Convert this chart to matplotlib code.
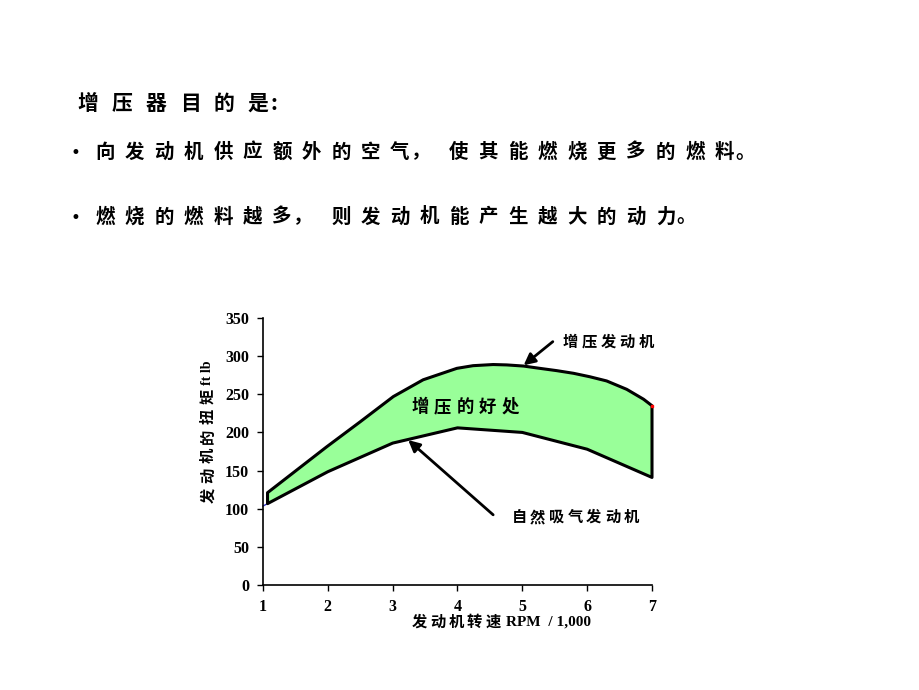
import numpy as np
import matplotlib
matplotlib.use("Agg")
import matplotlib.pyplot as plt

# ---------------- data ----------------
rpm_turbo = [1.07, 1.98, 2.50, 3.01, 3.47, 3.73, 3.99, 4.24, 4.55, 4.76, 5.02, 5.27,
             5.53, 5.79, 6.04, 6.30, 6.61, 6.87, 7.00]
torque_turbo = [121, 181, 214, 247, 269, 276.5, 284, 287.5, 289, 288.5, 287, 284,
                281, 277.5, 273, 267.5, 256.5, 243.5, 235]
rpm_natural = [1, 2, 3, 4, 5, 6, 7]
torque_natural = [103.5, 148.5, 186, 206, 200, 178, 141]
x_ticks = [1, 2, 3, 4, 5, 6, 7]
y_ticks = [0, 50, 100, 150, 200, 250, 300, 350]

title_text = "增压器目的是:"
bullet_1 = "向发动机供应额外的空气，使其能燃烧更多的燃料。"
bullet_2 = "燃烧的燃料越多，则发动机能产生越大的动力。"
turbo_label = "增压发动机"
natural_label = "自然吸气发动机"
benefit_label = "增压的好处"
ylabel_cjk = "发动机的扭矩"
ylabel_latin = "ft lb"
xlabel_cjk = "发动机转速"
xlabel_latin = "RPM  / 1,000"

CJK = ["Noto Sans CJK SC", "DejaVu Sans"]
SERIF = "Liberation Serif"
PUNCT = "，。:"

W, H = 920, 690
fig = plt.figure(figsize=(W / 100, H / 100), dpi=100)
fig.patch.set_facecolor("white")


def fx(px):
    return px / W


def fy(py):
    return 1 - py / H


def place_chars(text, left_px, pitch_px, y_px, size, em_px, weight="normal"):
    for i, ch in enumerate(text):
        cell = left_px + i * pitch_px
        if ch in PUNCT:
            # punctuation sits right after the previous glyph
            prev_end = left_px + (i - 1) * pitch_px + em_px
            fig.text(fx(prev_end + 2), fy(y_px), ch, fontsize=size, family=CJK,
                     weight=weight, ha="left", va="center")
        else:
            fig.text(fx(cell + em_px / 2), fy(y_px), ch, fontsize=size,
                     family=CJK, weight=weight, ha="center", va="center")


def place_vertical(text, x_px, bottom_px, pitch_px, size, weight="normal"):
    for i, ch in enumerate(text):
        fig.text(fx(x_px), fy(bottom_px - i * pitch_px), ch, fontsize=size, family=CJK,
                 weight=weight, rotation=90, ha="center", va="center")


# ---------------- header text ----------------
place_chars(title_text, 78, 34.0, 103, 15, 20, weight="bold")
fig.text(fx(75), fy(153), "•", fontsize=12, family="DejaVu Sans", ha="center", va="center")
place_chars(bullet_1, 96, 29.5, 152, 14, 18, weight="bold")
fig.text(fx(75), fy(218), "•", fontsize=12, family="DejaVu Sans", ha="center", va="center")
place_chars(bullet_2, 96, 29.5, 217, 14, 18, weight="bold")

# ---------------- chart ----------------
ax = fig.add_axes([fx(263), fy(585), (652 - 263) / W, (585 - 318) / H])
ax.set_xlim(1, 7)
ax.set_ylim(0, 350)
for s in ["top", "right"]:
    ax.spines[s].set_visible(False)
for s in ["left", "bottom"]:
    ax.spines[s].set_linewidth(1.2)
ax.set_xticks(x_ticks)
ax.set_yticks(y_ticks)
ax.tick_params(direction="out", length=4, width=1, pad=6)
for lab in ax.get_xticklabels() + ax.get_yticklabels():
    lab.set_fontfamily(SERIF)
    lab.set_fontweight("bold")
    lab.set_fontsize(11.5)

# natural engine thin blue line underneath
ax.plot(rpm_natural, torque_natural, color="#3030c0", lw=1.0, zorder=2, clip_on=False)

# benefit region polygon
nat_start = float(np.interp(rpm_turbo[0], rpm_natural, torque_natural))
poly_x = list(rpm_turbo) + [rpm_natural[-1]] + [x for x in rpm_natural[::-1] if x > rpm_turbo[0]] + [rpm_turbo[0]]
poly_y = list(torque_turbo) + [torque_natural[-1]] + [y for x, y in zip(rpm_natural[::-1], torque_natural[::-1]) if x > rpm_turbo[0]] + [nat_start]
ax.fill(poly_x, poly_y, facecolor="#99ff99", edgecolor="black", lw=2.2, joinstyle="round",
        zorder=3, clip_on=False)
ax.plot([rpm_turbo[-1]], [torque_turbo[-1]], "s", color="red", ms=1.8, zorder=4, clip_on=False)

# arrows
arrow_turbo_tail = (5.47, 319)
arrow_turbo_head = (5.02, 288)
arrow_nat_tail = (4.55, 92)
arrow_nat_head = (3.24, 190)
aprops = dict(arrowstyle="-|>", color="black", lw=2.0, mutation_scale=17, shrinkA=0, shrinkB=0)
ax.annotate("", xy=arrow_turbo_head, xytext=arrow_turbo_tail, arrowprops=aprops, zorder=5,
            annotation_clip=False)
ax.annotate("", xy=arrow_nat_head, xytext=arrow_nat_tail, arrowprops=aprops, zorder=5,
            annotation_clip=False)

# chart labels
place_chars(turbo_label, 563, 19.0, 342, 11, 14, weight="bold")
place_chars(benefit_label, 412, 22.6, 407, 12.5, 16, weight="bold")
place_chars(natural_label, 512, 18.7, 517, 11, 14, weight="bold")

# y label (rotated)
place_vertical(ylabel_cjk, 208, 495, 19.7, 11, weight="bold")
fig.text(fx(208), fy(373), ylabel_latin, fontsize=10, family=SERIF, weight="bold",
         rotation=90, ha="center", va="center")

# x label
place_chars(xlabel_cjk, 412, 18.5, 622, 11, 14, weight="bold")
fig.text(fx(506), fy(622), xlabel_latin, fontsize=11, family=SERIF, weight="bold",
         ha="left", va="center")

fig.savefig("out.png", dpi=100, facecolor="white")
